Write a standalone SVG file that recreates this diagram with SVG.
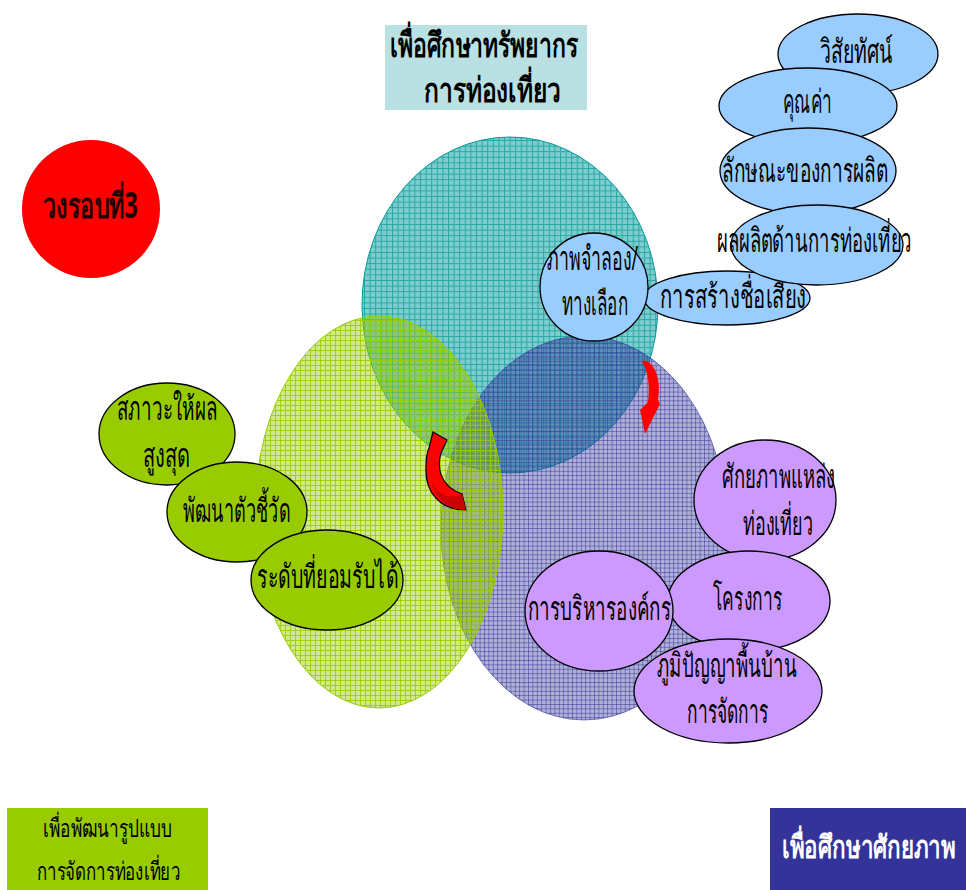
<svg xmlns="http://www.w3.org/2000/svg" width="966" height="890" viewBox="0 0 966 890">
<defs>
<pattern id="gTeal" patternUnits="userSpaceOnUse" width="5.6" height="5.6">
<rect width="5.6" height="5.6" fill="#009999" fill-opacity="0.5"/>
<path d="M0 0.5H5.6M0.5 0V5.6" stroke="#009999" stroke-width="1" stroke-opacity="0.7"/>
</pattern>
<pattern id="gPurple" patternUnits="userSpaceOnUse" width="4.4" height="4.4">
<rect width="4.4" height="4.4" fill="#333399" fill-opacity="0.38"/>
<path d="M0 0.5H4.4M0.5 0V4.4" stroke="#333399" stroke-width="0.8" stroke-opacity="0.65"/>
</pattern>
<pattern id="gGreen" patternUnits="userSpaceOnUse" width="5" height="5">
<rect width="5" height="5" fill="#99cc00" fill-opacity="0.45"/>
<path d="M0 0.5H5M0.5 0V5" stroke="#99cc00" stroke-width="1" stroke-opacity="0.85"/>
</pattern>
</defs>
<style>
text{font-family:"Noto Sans","DejaVu Sans",sans-serif;font-size:33px;fill:#000;text-anchor:start}
.b{font-weight:bold}
.blue{fill:#99ccff;stroke:#000;stroke-width:1.3}
.grn{fill:#99cc00;stroke:#000;stroke-width:1.3}
.pur{fill:#cc99ff;stroke:#000;stroke-width:1.3}
</style>

<g id="circle-teal"><ellipse cx="510" cy="305" rx="148" ry="168" fill="url(#gTeal)" stroke="#009999" stroke-width="1"/></g>
<g id="circle-purple"><ellipse cx="584" cy="528" rx="143" ry="192" fill="url(#gPurple)" stroke="#333399" stroke-opacity="0.6" stroke-width="1"/></g>
<g id="circle-green"><ellipse cx="379" cy="512" rx="124" ry="196" fill="url(#gGreen)" stroke="#99cc00" stroke-width="1"/></g>

<g id="title-box">
<rect x="385" y="25" width="202" height="85" fill="#b9e0e3"/>
<text class="b" x="390" y="57" textLength="188" lengthAdjust="spacingAndGlyphs" style="font-size:34px">เพื่อศึกษาทรัพยากร</text>
<text class="b" x="424" y="102" textLength="137" lengthAdjust="spacingAndGlyphs" style="font-size:34px">การท่องเที่ยว</text>
</g>

<g id="round3">
<circle cx="91" cy="209" r="69" fill="#ff0000"/>
<text class="b" x="43" y="218" textLength="95" lengthAdjust="spacingAndGlyphs" style="font-size:35px;fill:#220000">วงรอบที่3</text>
</g>

<g id="vision"><ellipse class="blue" cx="858" cy="54" rx="80" ry="40"/><text x="820" y="63" textLength="73" lengthAdjust="spacingAndGlyphs">วิสัยทัศน์</text></g>
<g id="value"><ellipse class="blue" cx="808" cy="106" rx="89" ry="38"/><text x="783" y="113" textLength="49" lengthAdjust="spacingAndGlyphs">คุณค่า</text></g>
<g id="production"><ellipse class="blue" cx="808" cy="171" rx="88" ry="43"/><text x="722" y="182" textLength="166" lengthAdjust="spacingAndGlyphs">ลักษณะของการผลิต</text></g>
<g id="reputation"><ellipse class="blue" cx="727" cy="298" rx="83" ry="27"/><text x="660" y="308" textLength="146" lengthAdjust="spacingAndGlyphs">การสร้างชื่อเสียง</text></g>
<g id="tourism-product"><ellipse class="blue" cx="817" cy="245" rx="86" ry="40"/><text x="717" y="252" textLength="195" lengthAdjust="spacingAndGlyphs">ผลผลิตด้านการท่องเที่ยว</text></g>
<g id="scenario"><ellipse class="blue" cx="594" cy="287" rx="54" ry="54"/>
<text x="547" y="270" textLength="91" lengthAdjust="spacingAndGlyphs">ภาพจำลอง/</text>
<text x="562" y="315" textLength="66" lengthAdjust="spacingAndGlyphs">ทางเลือก</text></g>

<g id="max-yield"><ellipse class="grn" cx="167" cy="434" rx="68" ry="51"/>
<text x="117" y="420" textLength="100" lengthAdjust="spacingAndGlyphs">สภาวะให้ผล</text>
<text x="143" y="467" textLength="47" lengthAdjust="spacingAndGlyphs">สูงสุด</text></g>
<g id="indicators"><ellipse class="grn" cx="237" cy="512" rx="70" ry="50"/><text x="183" y="522" textLength="107" lengthAdjust="spacingAndGlyphs">พัฒนาตัวชี้วัด</text></g>
<g id="acceptable"><ellipse class="grn" cx="327" cy="580" rx="76" ry="50"/><text x="257" y="588" textLength="141" lengthAdjust="spacingAndGlyphs">ระดับที่ยอมรับได้</text></g>

<g id="potential"><ellipse class="pur" cx="765" cy="500" rx="71" ry="60"/>
<text x="722" y="488" textLength="113" lengthAdjust="spacingAndGlyphs">ศักยภาพแหล่ง</text>
<text x="743" y="535" textLength="70" lengthAdjust="spacingAndGlyphs">ท่องเที่ยว</text></g>
<g id="project"><ellipse class="pur" cx="749" cy="601" rx="81" ry="50"/><text x="713" y="610" textLength="69" lengthAdjust="spacingAndGlyphs">โครงการ</text></g>
<g id="org-mgmt"><ellipse class="pur" cx="599" cy="611" rx="74" ry="60"/><text x="528" y="620" textLength="143" lengthAdjust="spacingAndGlyphs">การบริหารองค์กร</text></g>
<g id="wisdom"><ellipse class="pur" cx="728" cy="691" rx="94" ry="52"/>
<text x="657" y="677" textLength="140" lengthAdjust="spacingAndGlyphs">ภูมิปัญญาพื้นบ้าน</text>
<text x="687" y="723" textLength="81" lengthAdjust="spacingAndGlyphs">การจัดการ</text></g>

<g id="connectors">
<path d="M433,432 L447,440 L441,453 C437,466 439,486 462,494 L466,510 C440,510 425,492 426,468 C426,458 427,452 429,448 Z" fill="#ff0000" stroke="#000" stroke-width="1.2"/>
<path d="M431,480 C437,495 450,500 462,494 L466,510 C448,510 436,500 431,480 Z" fill="#cc0000"/>
<path d="M642,361 C653,359 662,378 658,400 L660,404 L645,434 L640,410 L648,402 C650,385 648,372 642,361 Z" fill="#ff0000"/>
</g>

<g id="goal-model">
<rect x="7" y="808" width="201" height="82" fill="#99cc00"/>
<text x="43" y="837" textLength="129" lengthAdjust="spacingAndGlyphs" style="font-size:25px">เพื่อพัฒนารูปแบบ</text>
<text x="37" y="880" textLength="143" lengthAdjust="spacingAndGlyphs" style="font-size:25px">การจัดการท่องเที่ยว</text>
</g>
<g id="goal-potential">
<rect x="770" y="808" width="196" height="82" fill="#333399"/>
<text class="b" x="782" y="858" textLength="173" lengthAdjust="spacingAndGlyphs" style="font-size:31px;fill:#fff">เพื่อศึกษาศักยภาพ</text>
</g>
</svg>
